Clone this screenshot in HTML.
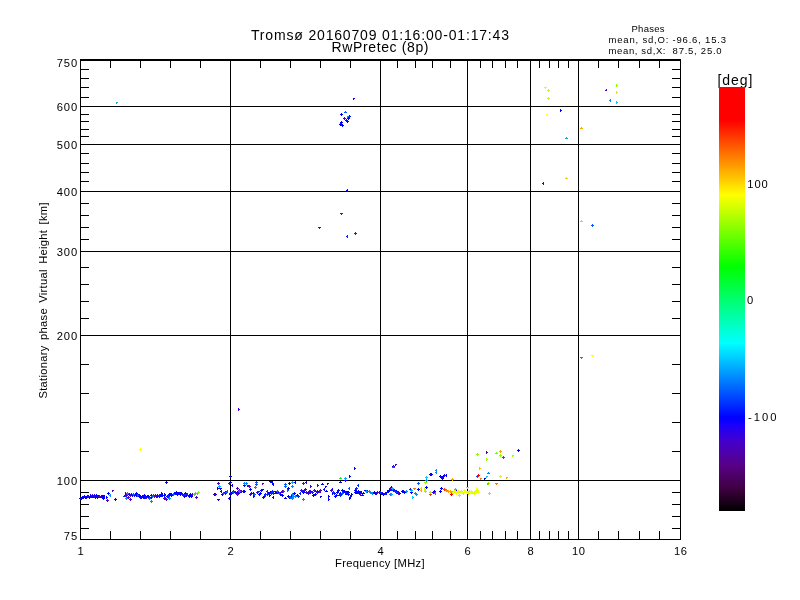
<!DOCTYPE html>
<html lang="en"><head><meta charset="utf-8"><title>Tromsø 20160709 01:16:00-01:17:43 RwPretec (8p)</title>
<style>html,body{margin:0;padding:0;background:#fff;}body{width:800px;height:600px;overflow:hidden;}svg{display:block;}text{font-family:"Liberation Sans",sans-serif;fill:#000;}</style>
</head><body>
<svg width="800" height="600" viewBox="0 0 800 600">
<rect x="0" y="0" width="800" height="600" fill="#fff"/>
<defs><linearGradient id="cb" x1="0" y1="1" x2="0" y2="0">
<stop offset="0.0000" stop-color="rgb(0,0,0)"/>
<stop offset="0.0510" stop-color="rgb(61,0,63)"/>
<stop offset="0.1059" stop-color="rgb(88,0,132)"/>
<stop offset="0.1647" stop-color="rgb(68,0,204)"/>
<stop offset="0.2039" stop-color="rgb(25,0,255)"/>
<stop offset="0.2196" stop-color="rgb(0,0,255)"/>
<stop offset="0.3961" stop-color="rgb(0,255,255)"/>
<stop offset="0.5765" stop-color="rgb(0,255,0)"/>
<stop offset="0.7451" stop-color="rgb(255,255,0)"/>
<stop offset="0.9216" stop-color="rgb(255,0,0)"/>
<stop offset="1.0000" stop-color="rgb(255,0,0)"/>
</linearGradient></defs>
<g fill="#000" shape-rendering="crispEdges">
<rect x="80" y="59" width="601" height="2"/>
<rect x="80" y="539" width="601" height="1"/>
<rect x="80" y="59" width="1" height="481"/>
<rect x="680" y="59" width="1" height="481"/>
<rect x="80" y="106" width="601" height="1"/>
<rect x="80" y="144" width="601" height="1"/>
<rect x="80" y="191" width="601" height="1"/>
<rect x="80" y="251" width="601" height="1"/>
<rect x="80" y="335" width="601" height="1"/>
<rect x="80" y="480" width="601" height="1"/>
<rect x="230" y="59" width="1" height="481"/>
<rect x="380" y="59" width="1" height="481"/>
<rect x="467" y="59" width="1" height="481"/>
<rect x="530" y="59" width="1" height="481"/>
<rect x="578" y="59" width="1" height="481"/>
<rect x="80" y="528" width="9" height="1"/>
<rect x="672" y="528" width="9" height="1"/>
<rect x="80" y="516" width="9" height="1"/>
<rect x="672" y="516" width="9" height="1"/>
<rect x="80" y="504" width="9" height="1"/>
<rect x="672" y="504" width="9" height="1"/>
<rect x="80" y="492" width="9" height="1"/>
<rect x="672" y="492" width="9" height="1"/>
<rect x="80" y="451" width="9" height="1"/>
<rect x="672" y="451" width="9" height="1"/>
<rect x="80" y="422" width="9" height="1"/>
<rect x="672" y="422" width="9" height="1"/>
<rect x="80" y="393" width="9" height="1"/>
<rect x="672" y="393" width="9" height="1"/>
<rect x="80" y="364" width="9" height="1"/>
<rect x="672" y="364" width="9" height="1"/>
<rect x="80" y="318" width="9" height="1"/>
<rect x="672" y="318" width="9" height="1"/>
<rect x="80" y="301" width="9" height="1"/>
<rect x="672" y="301" width="9" height="1"/>
<rect x="80" y="284" width="9" height="1"/>
<rect x="672" y="284" width="9" height="1"/>
<rect x="80" y="267" width="9" height="1"/>
<rect x="672" y="267" width="9" height="1"/>
<rect x="80" y="239" width="9" height="1"/>
<rect x="672" y="239" width="9" height="1"/>
<rect x="80" y="227" width="9" height="1"/>
<rect x="672" y="227" width="9" height="1"/>
<rect x="80" y="215" width="9" height="1"/>
<rect x="672" y="215" width="9" height="1"/>
<rect x="80" y="203" width="9" height="1"/>
<rect x="672" y="203" width="9" height="1"/>
<rect x="80" y="181" width="9" height="1"/>
<rect x="672" y="181" width="9" height="1"/>
<rect x="80" y="172" width="9" height="1"/>
<rect x="672" y="172" width="9" height="1"/>
<rect x="80" y="163" width="9" height="1"/>
<rect x="672" y="163" width="9" height="1"/>
<rect x="80" y="153" width="9" height="1"/>
<rect x="672" y="153" width="9" height="1"/>
<rect x="80" y="136" width="9" height="1"/>
<rect x="672" y="136" width="9" height="1"/>
<rect x="80" y="129" width="9" height="1"/>
<rect x="672" y="129" width="9" height="1"/>
<rect x="80" y="121" width="9" height="1"/>
<rect x="672" y="121" width="9" height="1"/>
<rect x="80" y="114" width="9" height="1"/>
<rect x="672" y="114" width="9" height="1"/>
<rect x="80" y="97" width="9" height="1"/>
<rect x="672" y="97" width="9" height="1"/>
<rect x="80" y="87" width="9" height="1"/>
<rect x="672" y="87" width="9" height="1"/>
<rect x="80" y="78" width="9" height="1"/>
<rect x="672" y="78" width="9" height="1"/>
<rect x="80" y="69" width="9" height="1"/>
<rect x="672" y="69" width="9" height="1"/>
<rect x="110" y="59" width="1" height="9"/>
<rect x="110" y="531" width="1" height="9"/>
<rect x="140" y="59" width="1" height="9"/>
<rect x="140" y="531" width="1" height="9"/>
<rect x="170" y="59" width="1" height="9"/>
<rect x="170" y="531" width="1" height="9"/>
<rect x="200" y="59" width="1" height="9"/>
<rect x="200" y="531" width="1" height="9"/>
<rect x="260" y="59" width="1" height="9"/>
<rect x="260" y="531" width="1" height="9"/>
<rect x="290" y="59" width="1" height="9"/>
<rect x="290" y="531" width="1" height="9"/>
<rect x="320" y="59" width="1" height="9"/>
<rect x="320" y="531" width="1" height="9"/>
<rect x="350" y="59" width="1" height="9"/>
<rect x="350" y="531" width="1" height="9"/>
<rect x="397" y="59" width="1" height="9"/>
<rect x="397" y="531" width="1" height="9"/>
<rect x="415" y="59" width="1" height="9"/>
<rect x="415" y="531" width="1" height="9"/>
<rect x="432" y="59" width="1" height="9"/>
<rect x="432" y="531" width="1" height="9"/>
<rect x="450" y="59" width="1" height="9"/>
<rect x="450" y="531" width="1" height="9"/>
<rect x="480" y="59" width="1" height="9"/>
<rect x="480" y="531" width="1" height="9"/>
<rect x="492" y="59" width="1" height="9"/>
<rect x="492" y="531" width="1" height="9"/>
<rect x="505" y="59" width="1" height="9"/>
<rect x="505" y="531" width="1" height="9"/>
<rect x="517" y="59" width="1" height="9"/>
<rect x="517" y="531" width="1" height="9"/>
<rect x="539" y="59" width="1" height="9"/>
<rect x="539" y="531" width="1" height="9"/>
<rect x="549" y="59" width="1" height="9"/>
<rect x="549" y="531" width="1" height="9"/>
<rect x="558" y="59" width="1" height="9"/>
<rect x="558" y="531" width="1" height="9"/>
<rect x="568" y="59" width="1" height="9"/>
<rect x="568" y="531" width="1" height="9"/>
<rect x="598" y="59" width="1" height="9"/>
<rect x="598" y="531" width="1" height="9"/>
<rect x="618" y="59" width="1" height="9"/>
<rect x="618" y="531" width="1" height="9"/>
<rect x="639" y="59" width="1" height="9"/>
<rect x="639" y="531" width="1" height="9"/>
<rect x="659" y="59" width="1" height="9"/>
<rect x="659" y="531" width="1" height="9"/>
</g>
<text x="717.5" y="85" font-size="14" text-anchor="start" textLength="35" lengthAdjust="spacing">[deg]</text>
<rect x="719" y="87" width="26" height="424" fill="url(#cb)" shape-rendering="crispEdges"/>
<g shape-rendering="crispEdges">
<path fill="rgb(0,0,255)" d="M80 497h1v3h-1v-1h-1v-1h1zM81 497h1v3h-1v-1h-1v-1h1zM82 496h1v1h1v1h-1v1h-1v-1h-1v-1h1zM83 496h1v1h1v1h-1v1h-1v-1h-1v-1h1zM84 495h1v1h1v1h-3v-1h1zM84 495h1v1h1v1h-1v1h-1v-1h-1v-1h1zM85 496h1v1h1v1h-1v1h-1v-1h-1v-1h1zM86 496h1v1h1v1h-1v1h-1v-1h-1v-1h1zM87 495h1v1h1v1h-1v1h-1v-1h-1v-1h1zM89 496h1v1h1v1h-1v1h-1v-1h-1v-1h1zM90 494h1v1h1v1h-1v1h-1zM91 495h1v1h1v1h-1v1h-1v-1h-1v-1h1zM92 495h1v3h-1v-1h-1v-1h1zM93 495h1v1h1v1h-1v1h-1zM95 496h1v1h1v1h-1v1h-1v-1h-1v-1h1zM96 495h1v1h1v1h-1v1h-1zM96 494h1v1h1v1h-1v1h-1zM97 496h1v1h1v1h-1v1h-1zM98 495h1v1h1v1h-3v-1h1zM99 495h1v1h1v1h-3v-1h1zM101 496h1v1h1v1h-3v-1h1zM101 495h1v1h1v1h-1v1h-1v-1h-1v-1h1zM102 495h1v1h1v1h-1v1h-1v-1h-1v-1h1zM103 497h1v1h1v1h-1v1h-1v-1h-1v-1h1zM103 495h1v1h1v1h-3v-1h1zM104 495h1v3h-1v-1h-1v-1h1zM106 496h1v1h1v1h-1v1h-1zM108 492h1v1h1v1h-1v1h-1v-1h-1v-1h1zM115 498h1v1h1v1h-1v1h-1v-1h-1v-1h1zM125 492h1v1h1v1h-1v1h-1zM126 494h1v1h1v1h-1v1h-1zM126 494h1v1h1v1h-1v1h-1v-1h-1v-1h1zM127 492h1v1h1v1h-1v1h-1v-1h-1v-1h1zM128 493h1v1h1v1h-3v-1h1zM129 493h1v1h1v1h-1v1h-1zM131 493h1v1h1v1h-1v1h-1v-1h-1v-1h1zM131 493h1v3h-1v-1h-1v-1h1zM132 494h1v3h-1v-1h-1v-1h1zM134 494h1v3h-1v-1h-1v-1h1zM134 494h3v1h-1v1h-1v-1h-1zM136 492h1v1h1v1h-1v1h-1v-1h-1v-1h1zM136 494h1v1h1v1h-1v1h-1v-1h-1v-1h1zM138 494h1v1h1v1h-1v1h-1v-1h-1v-1h1zM139 494h1v1h1v1h-1v1h-1zM139 496h3v1h-1v1h-1v-1h-1zM140 496h1v1h1v1h-1v1h-1v-1h-1v-1h1zM141 496h1v1h1v1h-1v1h-1zM142 495h1v1h1v1h-3v-1h1zM143 496h1v1h1v1h-1v1h-1zM144 494h1v1h1v1h-3v-1h1zM144 496h1v1h1v1h-1v1h-1v-1h-1v-1h1zM147 495h1v3h-1v-1h-1v-1h1zM148 495h1v1h1v1h-3v-1h1zM149 496h1v1h1v1h-1v1h-1v-1h-1v-1h1zM151 494h1v1h1v1h-1v1h-1v-1h-1v-1h1zM151 496h1v1h1v1h-1v1h-1zM153 494h1v1h1v1h-1v1h-1v-1h-1v-1h1zM156 495h1v1h1v1h-1v1h-1v-1h-1v-1h1zM157 494h1v1h1v1h-1v1h-1zM159 495h1v1h1v1h-1v1h-1v-1h-1v-1h1zM161 493h1v3h-1v-1h-1v-1h1zM161 492h1v1h1v1h-1v1h-1zM161 494h1v1h1v1h-1v1h-1v-1h-1v-1h1zM162 494h1v1h1v1h-1v1h-1v-1h-1v-1h1zM164 494h1v1h1v1h-1v1h-1v-1h-1v-1h1zM164 493h1v1h1v1h-1v1h-1zM167 495h1v1h1v1h-1v1h-1v-1h-1v-1h1zM167 495h3v1h-1v1h-1v-1h-1zM169 493h1v1h1v1h-3v-1h1zM170 493h1v3h-1v-1h-1v-1h1zM171 494h1v1h1v1h-1v1h-1v-1h-1v-1h1zM171 493h1v1h1v1h-1v1h-1v-1h-1v-1h1zM174 492h1v1h1v1h-3v-1h1zM175 492h1v1h1v1h-1v1h-1v-1h-1v-1h1zM176 492h1v1h1v1h-1v1h-1v-1h-1v-1h1zM176 491h1v1h1v1h-1v1h-1zM177 493h1v1h1v1h-1v1h-1v-1h-1v-1h1zM178 492h1v1h1v1h-1v1h-1v-1h-1v-1h1zM179 492h1v1h1v1h-1v1h-1v-1h-1v-1h1zM180 493h1v1h1v1h-1v1h-1v-1h-1v-1h1zM180 492h1v1h1v1h-1v1h-1v-1h-1v-1h1zM181 492h1v3h-1v-1h-1v-1h1zM184 495h1v1h1v1h-1v1h-1v-1h-1v-1h1zM185 492h1v1h1v1h-1v1h-1v-1h-1v-1h1zM186 493h1v1h1v1h-1v1h-1v-1h-1v-1h1zM186 494h1v1h1v1h-1v1h-1v-1h-1v-1h1zM189 494h1v1h1v1h-1v1h-1v-1h-1v-1h1zM189 495h1v1h1v1h-1v1h-1v-1h-1v-1h1zM190 493h1v1h1v1h-1v1h-1v-1h-1v-1h1zM191 495h1v1h1v1h-1v1h-1v-1h-1v-1h1zM166 481h1v1h1v1h-1v1h-1v-1h-1v-1h1zM214 493h1v1h1v1h-1v1h-1v-1h-1v-1h1zM217 487h1v1h1v1h-1v1h-1zM219 488h3v1h-1v1h-1v-1h-1zM221 490h1v3h-1v-1h-1v-1h1zM217 499h3v1h-1v1h-1v-1h-1zM230 475h1v1h1v1h-1v1h-1v-1h-1v-1h1zM230 481h1v1h1v1h-1v1h-1v-1h-1v-1h1zM232 484h1v3h-1v-1h-1v-1h1zM229 497h1v1h1v1h-1v1h-1v-1h-1v-1h1zM222 493h1v1h1v1h-1v1h-1v-1h-1v-1h1zM222 493h1v1h1v1h-1v1h-1v-1h-1v-1h1zM223 492h1v1h1v1h-3v-1h1zM225 491h1v1h1v1h-1v1h-1v-1h-1v-1h1zM230 492h1v1h1v1h-1v1h-1v-1h-1v-1h1zM230 493h1v1h1v1h-3v-1h1zM231 492h1v1h1v1h-1v1h-1v-1h-1v-1h1zM232 491h1v1h1v1h-1v1h-1zM235 491h1v1h1v1h-1v1h-1v-1h-1v-1h1zM236 492h1v1h1v1h-1v1h-1zM237 491h1v1h1v1h-1v1h-1v-1h-1v-1h1zM238 492h1v1h1v1h-1v1h-1v-1h-1v-1h1zM239 491h1v1h1v1h-1v1h-1v-1h-1v-1h1zM243 490h1v1h1v1h-1v1h-1zM244 490h1v1h1v1h-1v1h-1v-1h-1v-1h1zM251 492h1v1h1v1h-1v1h-1v-1h-1v-1h1zM253 492h1v1h1v1h-1v1h-1v-1h-1v-1h1zM257 491h1v1h1v1h-1v1h-1zM258 494h3v1h-1v1h-1v-1h-1zM260 492h1v1h1v1h-1v1h-1v-1h-1v-1h1zM261 489h1v1h1v1h-1v1h-1v-1h-1v-1h1zM261 489h3v1h-1v1h-1v-1h-1zM263 496h1v1h1v1h-1v1h-1v-1h-1v-1h1zM264 495h1v1h1v1h-1v1h-1v-1h-1v-1h1zM268 492h1v1h1v1h-1v1h-1v-1h-1v-1h1zM269 494h1v1h1v1h-1v1h-1zM270 491h1v1h1v1h-1v1h-1v-1h-1v-1h1zM273 492h1v1h1v1h-1v1h-1zM274 491h3v1h-1v1h-1v-1h-1zM276 491h1v1h1v1h-1v1h-1v-1h-1v-1h1zM276 492h1v1h1v1h-3v-1h1zM277 492h3v1h-1v1h-1v-1h-1zM280 493h1v1h1v1h-1v1h-1v-1h-1v-1h1zM282 494h1v1h1v1h-1v1h-1v-1h-1v-1h1zM288 495h1v1h1v1h-1v1h-1v-1h-1v-1h1zM289 496h1v1h1v1h-1v1h-1zM291 495h1v1h1v1h-1v1h-1v-1h-1v-1h1zM294 492h1v1h1v1h-1v1h-1v-1h-1v-1h1zM297 494h1v3h-1v-1h-1v-1h1zM303 491h1v1h1v1h-1v1h-1v-1h-1v-1h1zM306 491h1v1h1v1h-1v1h-1v-1h-1v-1h1zM310 491h1v1h1v1h-1v1h-1v-1h-1v-1h1zM312 491h1v1h1v1h-1v1h-1v-1h-1v-1h1zM313 494h1v1h1v1h-1v1h-1v-1h-1v-1h1zM315 493h1v1h1v1h-1v1h-1v-1h-1v-1h1zM317 490h1v1h1v1h-1v1h-1v-1h-1v-1h1zM244 484h1v1h1v1h-1v1h-1v-1h-1v-1h1zM269 481h3v1h-1v1h-1v-1h-1zM272 481h1v3h-1v-1h-1v-1h1zM273 483h1v3h-1v-1h-1v-1h1zM289 482h1v1h1v1h-1v1h-1v-1h-1v-1h1zM295 481h1v3h-1v-1h-1v-1h1zM288 487h1v1h1v1h-1v1h-1v-1h-1v-1h1zM273 496h1v3h-1v-1h-1v-1h1zM285 497h1v1h1v1h-3v-1h1zM253 495h1v1h1v1h-1v1h-1zM250 488h1v1h1v1h-1v1h-1v-1h-1v-1h1zM354 467h1v1h1v1h-1v1h-1zM349 475h1v1h1v1h-1v1h-1zM340 481h1v1h1v1h-3v-1h1zM327 483h2v1h-1v1h-1zM322 483h1v1h1v1h-3v-1h1zM325 486h2v1h-1v1h-1zM324 488h1v3h-1v-1h-1v-1h1zM326 490h1v1h1v1h-3v-1h1zM328 495h1v1h1v1h-1v1h-1zM328 498h1v1h1v1h-1v1h-1zM320 496h2v1h-1v1h-1zM332 488h1v3h-1v-1h-1v-1h1zM349 497h1v1h1v1h-1v1h-1zM393 465h1v1h1v1h-1v1h-1v-1h-1v-1h1zM332 492h1v1h1v1h-1v1h-1zM334 492h1v1h1v1h-1v1h-1zM334 492h1v1h1v1h-1v1h-1v-1h-1v-1h1zM335 495h1v1h1v1h-1v1h-1v-1h-1v-1h1zM336 494h1v1h1v1h-1v1h-1v-1h-1v-1h1zM337 491h1v1h1v1h-1v1h-1v-1h-1v-1h1zM338 489h1v1h1v1h-1v1h-1v-1h-1v-1h1zM340 492h1v1h1v1h-1v1h-1v-1h-1v-1h1zM340 493h3v1h-1v1h-1v-1h-1zM342 489h1v1h1v1h-1v1h-1v-1h-1v-1h1zM343 490h1v1h1v1h-1v1h-1v-1h-1v-1h1zM344 490h1v1h1v1h-1v1h-1v-1h-1v-1h1zM345 491h1v1h1v1h-3v-1h1zM346 492h1v1h1v1h-1v1h-1v-1h-1v-1h1zM346 491h3v1h-1v1h-1v-1h-1zM348 491h1v1h1v1h-1v1h-1v-1h-1v-1h1zM348 493h1v1h1v1h-1v1h-1v-1h-1v-1h1zM350 495h1v1h1v1h-1v1h-1zM351 493h1v1h1v1h-1v1h-1zM355 489h1v1h1v1h-1v1h-1v-1h-1v-1h1zM355 491h1v1h1v1h-1v1h-1v-1h-1v-1h1zM356 491h1v1h1v1h-1v1h-1zM357 491h1v1h1v1h-1v1h-1v-1h-1v-1h1zM358 490h1v1h1v1h-1v1h-1v-1h-1v-1h1zM358 491h1v1h1v1h-1v1h-1v-1h-1v-1h1zM359 492h1v1h1v1h-1v1h-1v-1h-1v-1h1zM360 491h1v1h1v1h-1v1h-1v-1h-1v-1h1zM361 491h1v3h-1v-1h-1v-1h1zM362 494h1v1h1v1h-3v-1h1zM363 492h1v1h1v1h-3v-1h1zM364 490h3v1h-1v1h-1v-1h-1zM372 492h1v1h1v1h-3v-1h1zM374 491h1v1h1v1h-1v1h-1v-1h-1v-1h1zM375 492h1v1h1v1h-1v1h-1v-1h-1v-1h1zM375 493h3v1h-1v1h-1v-1h-1zM379 491h1v1h1v1h-1v1h-1v-1h-1v-1h1zM381 492h1v3h-1v-1h-1v-1h1zM382 492h1v1h1v1h-1v1h-1v-1h-1v-1h1zM383 493h1v1h1v1h-1v1h-1v-1h-1v-1h1zM386 492h1v3h-1v-1h-1v-1h1zM387 491h1v1h1v1h-3v-1h1zM387 490h1v1h1v1h-1v1h-1zM389 489h1v1h1v1h-1v1h-1v-1h-1v-1h1zM389 488h1v1h1v1h-1v1h-1zM391 486h1v1h1v1h-3v-1h1zM391 487h1v1h1v1h-1v1h-1zM393 489h1v3h-1v-1h-1v-1h1zM396 490h1v1h1v1h-1v1h-1v-1h-1v-1h1zM396 490h1v1h1v1h-1v1h-1v-1h-1v-1h1zM398 491h1v1h1v1h-1v1h-1v-1h-1v-1h1zM399 492h1v1h1v1h-1v1h-1v-1h-1v-1h1zM402 490h1v1h1v1h-1v1h-1v-1h-1v-1h1zM403 490h1v1h1v1h-1v1h-1v-1h-1v-1h1zM404 491h1v1h1v1h-1v1h-1v-1h-1v-1h1zM411 491h1v1h1v1h-1v1h-1v-1h-1v-1h1zM418 488h1v1h1v1h-1v1h-1v-1h-1v-1h1zM426 486h1v1h1v1h-1v1h-1v-1h-1v-1h1zM430 473h1v1h1v1h-1v1h-1v-1h-1v-1h1zM431 473h1v1h1v1h-1v1h-1v-1h-1v-1h1zM434 490h1v1h1v1h-1v1h-1v-1h-1v-1h1zM441 476h1v1h1v1h-1v1h-1v-1h-1v-1h1zM440 475h1v1h1v1h-1v1h-1v-1h-1v-1h1zM441 478h3v1h-1v1h-1v-1h-1zM443 475h1v1h1v1h-1v1h-1v-1h-1v-1h1zM446 474h1v3h-1v-1h-1v-1h1zM441 487h1v1h1v1h-1v1h-1v-1h-1v-1h1zM440 490h1v1h1v1h-1v1h-1v-1h-1v-1h1zM455 489h1v1h1v1h-1v1h-1v-1h-1v-1h1zM518 449h1v1h1v1h-1v1h-1v-1h-1v-1h1zM341 113h1v1h1v1h-1v1h-1v-1h-1v-1h1zM349 115h1v1h1v1h-1v1h-1v-1h-1v-1h1zM348 117h1v1h1v1h-1v1h-1v-1h-1v-1h1zM346 119h1v1h1v1h-1v1h-1v-1h-1v-1h1zM346 121h3v1h-1v1h-1v-1h-1zM341 121h1v1h1v1h-1v1h-1v-1h-1v-1h1zM340 123h1v1h1v1h-1v1h-1v-1h-1v-1h1zM342 124h1v1h1v1h-1v1h-1v-1h-1v-1h1zM347 189h1v3h-1v-1h-1v-1h1zM560 109h1v1h1v1h-1v1h-1z"/>
<path fill="rgb(80,0,190)" d="M88 495h1v3h-1v-1h-1v-1h1zM92 494h1v1h1v1h-3v-1h1zM99 495h1v1h1v1h-1v1h-1v-1h-1v-1h1zM112 490h2v1h-1v1h-1zM107 499h1v1h1v1h-1v1h-1v-1h-1v-1h1zM130 494h1v1h1v1h-1v1h-1zM145 497h3v1h-1v1h-1v-1h-1zM154 495h1v1h1v1h-1v1h-1v-1h-1v-1h1zM155 494h1v1h1v1h-1v1h-1v-1h-1v-1h1zM159 494h1v3h-1v-1h-1v-1h1zM165 497h1v1h1v1h-1v1h-1v-1h-1v-1h1zM192 493h1v1h1v1h-1v1h-1v-1h-1v-1h1zM130 498h1v1h1v1h-1v1h-1v-1h-1v-1h1zM126 494h1v1h1v1h-1v1h-1v-1h-1v-1h1zM128 496h1v1h1v1h-1v1h-1v-1h-1v-1h1zM166 498h1v1h1v1h-1v1h-1v-1h-1v-1h1zM164 497h1v1h1v1h-1v1h-1v-1h-1v-1h1zM196 496h1v1h1v1h-1v1h-1v-1h-1v-1h1zM218 482h1v1h1v1h-1v1h-1v-1h-1v-1h1zM237 487h1v1h1v1h-1v1h-1v-1h-1v-1h1zM237 493h1v1h1v1h-1v1h-1v-1h-1v-1h1zM233 490h1v1h1v1h-1v1h-1v-1h-1v-1h1zM239 489h1v1h1v1h-1v1h-1v-1h-1v-1h1zM241 490h1v1h1v1h-1v1h-1v-1h-1v-1h1zM249 485h1v1h1v1h-1v1h-1v-1h-1v-1h1zM257 491h1v1h1v1h-3v-1h1zM273 492h1v3h-1v-1h-1v-1h1zM282 490h1v1h1v1h-1v1h-1zM305 488h1v1h1v1h-3v-1h1zM306 491h1v3h-1v-1h-1v-1h1zM309 490h1v1h1v1h-1v1h-1v-1h-1v-1h1zM314 489h1v1h1v1h-1v1h-1v-1h-1v-1h1zM319 491h1v1h1v1h-3v-1h1zM247 485h2v1h-1v1h-1zM262 483h2v1h-1v1h-1zM320 489h1v1h1v1h-1v1h-1v-1h-1v-1h1zM395 464h2v1h-1v1h-1zM331 489h1v1h1v1h-1v1h-1v-1h-1v-1h1zM345 492h1v1h1v1h-1v1h-1zM360 493h1v3h-1v-1h-1v-1h1zM367 490h1v1h1v1h-1v1h-1v-1h-1v-1h1zM377 491h1v1h1v1h-1v1h-1v-1h-1v-1h1zM390 487h1v1h1v1h-1v1h-1v-1h-1v-1h1zM391 488h1v1h1v1h-1v1h-1v-1h-1v-1h1zM393 489h1v1h1v1h-1v1h-1v-1h-1v-1h1zM395 490h1v1h1v1h-1v1h-1v-1h-1v-1h1zM398 492h1v3h-1v-1h-1v-1h1zM410 488h1v1h1v1h-1v1h-1v-1h-1v-1h1zM486 451h1v1h1v1h-1v1h-1zM344 117h1v1h1v1h-1v1h-1v-1h-1v-1h1zM606 89h1v2h-2v-1h1z"/>
<path fill="rgb(50,0,225)" d="M87 496h3v1h-1v1h-1v-1h-1zM94 494h1v1h1v1h-1v1h-1v-1h-1v-1h1zM145 496h1v1h1v1h-1v1h-1v-1h-1v-1h1zM157 495h1v3h-1v-1h-1v-1h1zM182 493h1v1h1v1h-1v1h-1v-1h-1v-1h1zM215 493h1v1h1v1h-1v1h-1v-1h-1v-1h1zM235 491h1v1h1v1h-1v1h-1zM250 493h1v1h1v1h-1v1h-1v-1h-1v-1h1zM281 491h1v1h1v1h-3v-1h1zM301 489h1v1h1v1h-1v1h-1v-1h-1v-1h1zM303 490h1v1h1v1h-1v1h-1v-1h-1v-1h1zM304 489h1v1h1v1h-1v1h-1zM308 492h1v1h1v1h-1v1h-1v-1h-1v-1h1zM310 490h1v1h1v1h-1v1h-1zM315 491h3v1h-1v1h-1v-1h-1zM317 491h1v1h1v1h-1v1h-1v-1h-1v-1h1zM306 481h1v3h-1v-1h-1v-1h1zM310 485h1v1h1v1h-1v1h-1zM317 484h1v1h1v1h-1v1h-1zM344 480h3v1h-1v1h-1v-1h-1zM339 494h1v1h1v1h-3v-1h1zM385 492h1v1h1v1h-1v1h-1v-1h-1v-1h1zM393 488h1v1h1v1h-1v1h-1v-1h-1v-1h1zM398 491h1v1h1v1h-1v1h-1v-1h-1v-1h1zM433 491h1v1h1v1h-1v1h-1v-1h-1v-1h1zM444 474h1v1h1v1h-1v1h-1v-1h-1v-1h1z"/>
<path fill="rgb(0,140,255)" d="M110 494h1v3h-1v-1h-1v-1h1zM127 492h1v1h1v1h-1v1h-1v-1h-1v-1h1zM126 497h1v1h1v1h-1v1h-1v-1h-1v-1h1zM151 500h1v1h1v1h-1v1h-1v-1h-1v-1h1zM169 497h1v1h1v1h-1v1h-1v-1h-1v-1h1zM239 490h1v1h1v1h-1v1h-1v-1h-1v-1h1zM293 495h1v1h1v1h-1v1h-1v-1h-1v-1h1zM295 495h1v1h1v1h-1v1h-1v-1h-1v-1h1zM244 482h1v1h1v1h-1v1h-1v-1h-1v-1h1zM246 482h1v1h1v1h-1v1h-1v-1h-1v-1h1zM255 486h1v1h1v1h-1v1h-1v-1h-1v-1h1zM292 485h1v1h1v1h-1v1h-1v-1h-1v-1h1zM292 493h1v1h1v1h-1v1h-1v-1h-1v-1h1zM292 497h1v1h1v1h-1v1h-1v-1h-1v-1h1zM303 498h1v1h1v1h-1v1h-1v-1h-1v-1h1zM366 490h1v1h1v1h-1v1h-1v-1h-1v-1h1zM369 490h1v1h1v1h-1v1h-1v-1h-1v-1h1zM370 491h1v1h1v1h-1v1h-1zM372 492h1v3h-1v-1h-1v-1h1zM406 490h1v1h1v1h-1v1h-1v-1h-1v-1h1zM390 493h1v1h1v1h-1v1h-1v-1h-1v-1h1zM415 492h1v1h1v1h-1v1h-1v-1h-1v-1h1zM416 493h1v1h1v1h-1v1h-1v-1h-1v-1h1zM426 479h1v1h1v1h-1v1h-1v-1h-1v-1h1zM436 469h1v3h-1v-1h-1v-1h1zM436 471h1v3h-1v-1h-1v-1h1zM435 492h1v3h-1v-1h-1v-1h1zM488 472h1v1h1v1h-3v-1h1zM347 116h2v1h-1v1h-1zM610 99h1v3h-1v-1h-1v-1h1zM580 357h3v1h-1v1h-1v-1h-1z"/>
<path fill="rgb(0,40,255)" d="M124 495h1v1h1v1h-3v-1h1zM168 495h1v1h1v1h-1v1h-1v-1h-1v-1h1zM173 493h1v1h1v1h-1v1h-1v-1h-1v-1h1zM183 494h1v1h1v1h-1v1h-1zM184 494h3v1h-1v1h-1v-1h-1zM187 493h1v3h-1v-1h-1v-1h1zM229 482h1v1h1v1h-1v1h-1v-1h-1v-1h1zM224 493h3v1h-1v1h-1v-1h-1zM257 491h3v1h-1v1h-1v-1h-1zM265 494h1v3h-1v-1h-1v-1h1zM265 493h1v1h1v1h-1v1h-1v-1h-1v-1h1zM267 490h1v3h-1v-1h-1v-1h1zM267 493h1v1h1v1h-1v1h-1zM271 492h1v1h1v1h-1v1h-1v-1h-1v-1h1zM272 490h1v1h1v1h-1v1h-1v-1h-1v-1h1zM298 495h1v1h1v1h-1v1h-1v-1h-1v-1h1zM300 492h1v3h-1v-1h-1v-1h1zM312 491h1v1h1v1h-3v-1h1zM303 482h1v1h1v1h-1v1h-1v-1h-1v-1h1zM358 484h1v3h-1v-1h-1v-1h1zM356 487h1v1h1v1h-1v1h-1v-1h-1v-1h1zM333 491h1v1h1v1h-1v1h-1v-1h-1v-1h1zM340 494h1v1h1v1h-1v1h-1zM380 491h1v1h1v1h-1v1h-1v-1h-1v-1h1zM394 490h1v1h1v1h-3v-1h1zM392 488h1v1h1v1h-1v1h-1v-1h-1v-1h1zM396 491h1v1h1v1h-1v1h-1v-1h-1v-1h1zM340 213h3v1h-1v1h-1v-1h-1zM318 227h3v1h-1v1h-1v-1h-1zM355 232h1v1h1v1h-1v1h-1v-1h-1v-1h1zM347 235h1v3h-1v-1h-1v-1h1z"/>
<path fill="rgb(0,90,255)" d="M133 493h1v1h1v1h-1v1h-1v-1h-1v-1h1zM137 494h1v1h1v1h-1v1h-1zM149 497h1v1h1v1h-1v1h-1v-1h-1v-1h1zM152 495h1v1h1v1h-1v1h-1v-1h-1v-1h1zM153 494h1v3h-1v-1h-1v-1h1zM173 493h1v1h1v1h-1v1h-1zM223 492h1v1h1v1h-1v1h-1v-1h-1v-1h1zM226 491h1v1h1v1h-3v-1h1zM227 490h1v3h-1v-1h-1v-1h1zM233 491h1v3h-1v-1h-1v-1h1zM254 493h1v1h1v1h-1v1h-1v-1h-1v-1h1zM277 490h1v1h1v1h-1v1h-1v-1h-1v-1h1zM279 492h1v3h-1v-1h-1v-1h1zM283 490h1v1h1v1h-1v1h-1zM290 496h1v1h1v1h-1v1h-1v-1h-1v-1h1zM256 481h1v1h1v1h-1v1h-1v-1h-1v-1h1zM256 483h1v1h1v1h-1v1h-1v-1h-1v-1h1zM285 483h1v1h1v1h-1v1h-1v-1h-1v-1h1zM285 485h1v1h1v1h-1v1h-1v-1h-1v-1h1zM287 489h1v1h1v1h-1v1h-1zM393 466h1v1h1v1h-3v-1h1zM342 492h1v1h1v1h-1v1h-1v-1h-1v-1h1zM349 487h1v3h-1v-1h-1v-1h1zM418 482h1v1h1v1h-1v1h-1v-1h-1v-1h1zM503 456h1v1h1v1h-1v1h-1v-1h-1v-1h1zM477 475h1v1h1v1h-1v1h-1v-1h-1v-1h1zM345 111h1v1h1v1h-3v-1h1zM592 224h1v1h1v1h-1v1h-1v-1h-1v-1h1z"/>
<path fill="rgb(0,255,0)" d="M195 492h1v1h1v1h-1v1h-1v-1h-1v-1h1zM197 492h1v1h1v1h-1v1h-1v-1h-1v-1h1zM340 477h1v1h1v1h-3v-1h1z"/>
<path fill="rgb(140,255,0)" d="M198 491h1v1h1v1h-1v1h-1v-1h-1v-1h1zM425 490h1v1h1v1h-1v1h-1v-1h-1v-1h1zM424 482h3v1h-1v1h-1v-1h-1zM430 491h1v1h1v1h-1v1h-1v-1h-1v-1h1zM466 487h3v1h-1v1h-1v-1h-1zM477 453h1v1h1v1h-1v1h-1v-1h-1v-1h1zM486 458h1v1h1v1h-1v1h-1zM500 454h1v1h1v1h-1v1h-1v-1h-1v-1h1zM512 455h2v1h-1v1h-1zM488 482h1v1h1v1h-1v1h-1v-1h-1v-1h1zM489 492h1v1h1v1h-1v1h-1v-1h-1v-1h1zM616 84h1v1h1v1h-1v1h-1zM581 220h1v1h1v1h-3v-1h1z"/>
<path fill="rgb(60,220,60)" d="M194 493h1v1h1v1h-1v1h-1v-1h-1v-1h1z"/>
<path fill="rgb(0,175,255)" d="M219 485h1v1h1v1h-1v1h-1v-1h-1v-1h1zM292 481h1v1h1v1h-1v1h-1v-1h-1v-1h1zM345 477h1v1h1v1h-1v1h-1v-1h-1v-1h1zM391 493h1v1h1v1h-1v1h-1zM392 487h1v1h1v1h-1v1h-1v-1h-1v-1h1zM411 489h1v1h1v1h-1v1h-1v-1h-1v-1h1zM566 137h1v1h1v1h-3v-1h1zM116 102h2v1h-1v1h-1z"/>
<path fill="rgb(255,120,0)" d="M413 488h3v1h-1v1h-1v-1h-1zM446 489h1v1h1v1h-1v1h-1v-1h-1v-1h1zM480 478h2v1h-1v1h-1zM495 483h3v1h-1v1h-1v-1h-1z"/>
<path fill="rgb(0,210,255)" d="M412 496h1v1h1v1h-1v1h-1zM426 476h1v1h1v1h-1v1h-1v-1h-1v-1h1zM455 488h1v1h1v1h-3v-1h1zM486 476h2v1h-1v1h-1zM487 483h2v1h-1v1h-1zM616 101h1v1h1v1h-1v1h-1z"/>
<path fill="rgb(255,215,0)" d="M421 487h1v3h-1v-1h-1v-1h1zM459 494h1v1h1v1h-1v1h-1v-1h-1v-1h1zM458 490h1v1h1v1h-1v1h-1v-1h-1v-1h1zM461 490h1v3h-1v-1h-1v-1h1zM468 492h1v3h-1v-1h-1v-1h1zM468 492h1v1h1v1h-1v1h-1v-1h-1v-1h1zM469 490h1v1h1v1h-1v1h-1v-1h-1v-1h1z"/>
<path fill="rgb(255,165,0)" d="M421 489h1v3h-1v-1h-1v-1h1zM448 490h1v3h-1v-1h-1v-1h1zM450 490h1v1h1v1h-1v1h-1v-1h-1v-1h1zM450 491h3v1h-1v1h-1v-1h-1zM452 478h1v1h1v1h-1v1h-1v-1h-1v-1h1zM500 450h1v1h1v1h-1v1h-1v-1h-1v-1h1zM506 477h2v1h-1v1h-1zM581 127h1v1h1v1h-3v-1h1z"/>
<path fill="rgb(200,255,0)" d="M424 488h1v1h1v1h-1v1h-1zM452 492h1v1h1v1h-1v1h-1v-1h-1v-1h1zM454 490h1v1h1v1h-1v1h-1v-1h-1v-1h1zM463 492h1v1h1v1h-1v1h-1v-1h-1v-1h1zM474 491h1v1h1v1h-1v1h-1v-1h-1v-1h1zM548 89h1v1h1v1h-1v1h-1v-1h-1v-1h1zM548 97h1v1h1v1h-1v1h-1v-1h-1v-1h1z"/>
<path fill="rgb(255,60,0)" d="M429 494h3v1h-1v1h-1v-1h-1zM444 488h1v1h1v1h-1v1h-1v-1h-1v-1h1z"/>
<path fill="rgb(255,0,0)" d="M451 493h1v1h1v1h-1v1h-1v-1h-1v-1h1zM478 474h1v1h1v1h-1v1h-1v-1h-1v-1h1z"/>
<path fill="rgb(255,255,0)" d="M476 487h1v1h1v1h-1v1h-1zM456 492h1v3h-1v-1h-1v-1h1zM461 491h1v1h1v1h-1v1h-1v-1h-1v-1h1zM464 491h1v1h1v1h-1v1h-1v-1h-1v-1h1zM464 489h1v1h1v1h-3v-1h1zM470 491h1v1h1v1h-1v1h-1v-1h-1v-1h1zM478 491h1v1h1v1h-1v1h-1v-1h-1v-1h1zM546 114h2v2h-1v-1h-1zM140 448h1v1h1v1h-1v1h-1v-1h-1v-1h1zM591 355h3v1h-1v1h-1v-1h-1z"/>
<path fill="rgb(225,255,0)" d="M454 490h1v1h1v1h-1v1h-1v-1h-1v-1h1zM455 490h1v1h1v1h-1v1h-1v-1h-1v-1h1zM457 491h1v1h1v1h-3v-1h1zM458 491h1v1h1v1h-1v1h-1v-1h-1v-1h1zM459 491h1v1h1v1h-3v-1h1zM462 491h1v1h1v1h-1v1h-1v-1h-1v-1h1zM467 491h1v1h1v1h-1v1h-1v-1h-1v-1h1zM471 491h1v1h1v1h-1v1h-1v-1h-1v-1h1zM472 491h1v1h1v1h-1v1h-1v-1h-1v-1h1zM474 492h1v1h1v1h-1v1h-1v-1h-1v-1h1zM477 489h1v1h1v1h-1v1h-1v-1h-1v-1h1z"/>
<path fill="rgb(235,255,0)" d="M465 490h1v1h1v1h-3v-1h1zM471 490h1v1h1v1h-1v1h-1v-1h-1v-1h1zM475 490h1v1h1v1h-1v1h-1zM476 491h1v1h1v1h-1v1h-1v-1h-1v-1h1z"/>
<path fill="rgb(100,255,0)" d="M496 452h1v1h1v1h-3v-1h1z"/>
<path fill="rgb(255,190,0)" d="M479 467h1v1h1v1h-1v1h-1z"/>
<path fill="rgb(0,0,220)" d="M484 478h2v1h-1v1h-1z"/>
<path fill="rgb(255,230,0)" d="M500 475h1v1h1v1h-1v1h-1v-1h-1v-1h1z"/>
<path fill="rgb(20,0,255)" d="M353 98h2v1h-1v1h-1z"/>
<path fill="rgb(255,240,0)" d="M544 87h3v1h-1v1h-1v-1h-1z"/>
<path fill="rgb(255,220,0)" d="M616 91h1v1h1v1h-1v1h-1z"/>
<path fill="rgb(255,210,0)" d="M566 177h1v1h1v1h-3v-1h1z"/>
<path fill="rgb(30,0,255)" d="M543 182h1v3h-1v-1h-1v-1h1z"/>
<path fill="rgb(70,0,220)" d="M238 408h1v1h1v1h-1v1h-1z"/>
</g>
<text x="380" y="40" font-size="14" text-anchor="middle" textLength="258" lengthAdjust="spacing">Tromsø 20160709 01:16:00-01:17:43</text>
<text x="380" y="52" font-size="14" text-anchor="middle" textLength="97" lengthAdjust="spacing">RwPretec (8p)</text>
<text x="648" y="32" font-size="9.5" text-anchor="middle" textLength="33" lengthAdjust="spacing">Phases</text>
<text x="608.5" y="43" font-size="9.5" text-anchor="start" textLength="117.5" lengthAdjust="spacing">mean, sd,O: -96.6, 15.3</text>
<text x="608.5" y="53.5" font-size="9.5"><tspan textLength="57" lengthAdjust="spacing">mean, sd,X:</tspan> <tspan x="672.6" textLength="49" lengthAdjust="spacing">87.5, 25.0</tspan></text>
<text x="747.3" y="188" font-size="11.2" text-anchor="start" textLength="20.5" lengthAdjust="spacing">100</text>
<text x="747" y="304" font-size="11.2" text-anchor="start">0</text>
<text x="748" y="421" font-size="11.2" text-anchor="start" textLength="28.5" lengthAdjust="spacing">-100</text>
<text x="77.2" y="540" font-size="11.2" text-anchor="end" textLength="13.5" lengthAdjust="spacing">75</text>
<text x="77.2" y="485" font-size="11.2" text-anchor="end" textLength="20.5" lengthAdjust="spacing">100</text>
<text x="77.2" y="340" font-size="11.2" text-anchor="end" textLength="20.5" lengthAdjust="spacing">200</text>
<text x="77.2" y="256" font-size="11.2" text-anchor="end" textLength="20.5" lengthAdjust="spacing">300</text>
<text x="77.2" y="196" font-size="11.2" text-anchor="end" textLength="20.5" lengthAdjust="spacing">400</text>
<text x="77.2" y="149" font-size="11.2" text-anchor="end" textLength="20.5" lengthAdjust="spacing">500</text>
<text x="77.2" y="111" font-size="11.2" text-anchor="end" textLength="20.5" lengthAdjust="spacing">600</text>
<text x="77.2" y="67" font-size="11.2" text-anchor="end" textLength="20.5" lengthAdjust="spacing">750</text>
<text x="80.5" y="555" font-size="11.2" text-anchor="middle">1</text>
<text x="230.5" y="555" font-size="11.2" text-anchor="middle">2</text>
<text x="380.5" y="555" font-size="11.2" text-anchor="middle">4</text>
<text x="467.5" y="555" font-size="11.2" text-anchor="middle">6</text>
<text x="530.5" y="555" font-size="11.2" text-anchor="middle">8</text>
<text x="578.5" y="555" font-size="11.2" text-anchor="middle" textLength="13" lengthAdjust="spacing">10</text>
<text x="680.5" y="555" font-size="11.2" text-anchor="middle" textLength="13" lengthAdjust="spacing">16</text>
<text x="379.8" y="567" font-size="11.2" text-anchor="middle" textLength="89.5" lengthAdjust="spacing">Frequency [MHz]</text>
<text transform="translate(47,398.5) rotate(-90)" font-size="11.2" word-spacing="2" textLength="196" lengthAdjust="spacing">Stationary phase Virtual Height [km]</text>
</svg></body></html>
